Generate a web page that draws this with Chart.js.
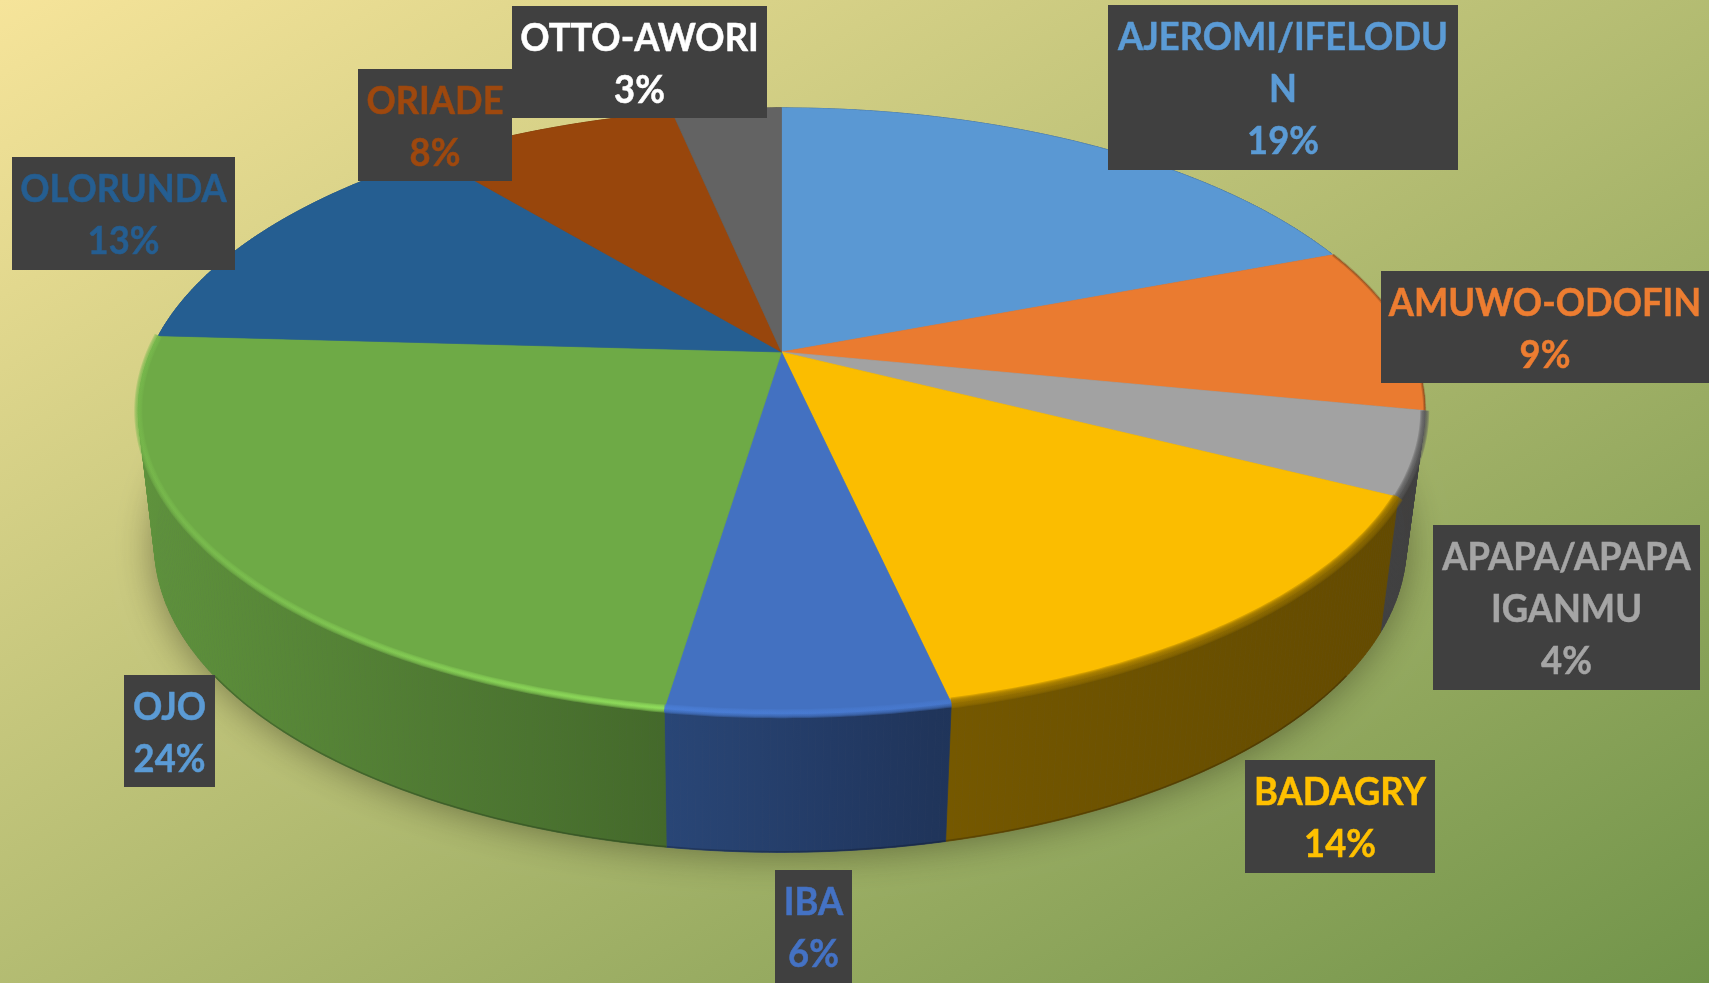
<!DOCTYPE html>
<html><head><meta charset="utf-8">
<style>html,body{margin:0;padding:0;background:#b3bb70}#wrap{width:1709px;height:983px;position:relative;overflow:hidden}</style>
<script src="https://cdn.jsdelivr.net/npm/chart.js@4"></script>
</head><body><div id="wrap"><canvas id="c"></canvas></div>
<script>
const districts = ['AJEROMI/IFELODUN','AMUWO-ODOFIN','APAPA/APAPA IGANMU','BADAGRY','IBA','OJO','OLORUNDA','ORIADE','OTTO-AWORI'];
const shares = [19.2,8.9,4.4,14.0,5.9,23.5,13.1,7.7,3.3];
const sliceColors = ['#5a98d3','#ea7b30','#a2a2a2','#fbbd00','#4371c1','#6eaa46','#255e91','#98460c','#636363'];
const labelColors = ['#5b9bd5','#ed7d31','#a5a5a5','#ffc000','#4472c4','#5b9bd5','#255e91','#9e480e','#ffffff'];
const labelLines = [['AJEROMI/IFELODU','N'],['AMUWO-ODOFIN'],['APAPA/APAPA','IGANMU'],['BADAGRY'],['IBA'],['OJO'],['OLORUNDA'],['ORIADE'],['OTTO-AWORI']];

// layout of the label boxes: x0, y0, x1, y1
const labelBoxes = [[1108,5,1458,170],[1381,271,1709,383],[1433,525,1700,690],[1245,760,1435,873],[775,870,852,983],[124,675,215,787],[12,157,235,270],[358,69,512,181],[512,6,767,118]];
// perspective of the disc: upper face and lower face
const K = 0.194;
const TOP = {cx:781.5, cy:352, a:631, b:291.5};
const BOT = {cx:780.4, cy:485.4, a:614, b:295.8};
// bevel along the front edge: tone at the left and right of each slice, and width
const rimToneL = [0,0.55,0.55,0.6,1.12,1.08,0,0,0];
const rimToneR = [0,0.55,0.55,0.55,1.06,1.35,0,0,0];
const rimWidth = [0,3,9,11,9,8,0,0,0];

function project(f, th){ // th: radians clockwise from 12 o'clock, on rim
  const x=Math.sin(th), y=-Math.cos(th), w=1-K*y;
  return [f.cx+f.a*x/w, f.cy+f.b*y/w];
}
function shade(hex,f){
  const n=parseInt(hex.slice(1),16);
  const c=[n>>16&255,n>>8&255,n&255].map(v=>Math.min(255,Math.round(v*f)));
  return `rgb(${c[0]},${c[1]},${c[2]})`;
}
function wallLight(x){
  const xs=[140,660,950,1430], fs=[.86,.62,.46,.39];
  for(let i=1;i<xs.length;i++) if(x<=xs[i]) return fs[i-1]+(fs[i]-fs[i-1])*(x-xs[i-1])/(xs[i]-xs[i-1]);
  return fs[fs.length-1];
}
function rimPts(f,a0,a1){
  const n=Math.max(2,Math.ceil((a1-a0)/0.01)), p=[];
  for(let i=0;i<=n;i++) p.push(project(f,a0+(a1-a0)*i/n));
  return p;
}
const angles = el => [el.startAngle+Math.PI/2, el.endAngle+Math.PI/2];

// every slice is drawn by the library's own arc element, on the perspective disc
Chart.ArcElement.prototype.draw = function(ctx){
  const [a0,a1]=angles(this);
  ctx.save();
  ctx.beginPath();
  ctx.moveTo(TOP.cx,TOP.cy);
  rimPts(TOP,a0,a1).forEach(p=>ctx.lineTo(p[0],p[1]));
  ctx.closePath();
  ctx.fillStyle=this.options.backgroundColor;
  ctx.fill();
  ctx.strokeStyle=this.options.backgroundColor;
  ctx.lineWidth=0.7;
  ctx.stroke();
  ctx.restore();
};

const scene = {
  id:'scene',
  beforeDraw(chart){
    const ctx=chart.ctx, g=ctx.createLinearGradient(430,-247,1279,1230);
    g.addColorStop(0,'#f6e49a'); g.addColorStop(1,'#71944a');
    ctx.fillStyle=g; ctx.fillRect(0,0,chart.width,chart.height);
  },
  beforeDatasetsDraw(chart){
    const ctx=chart.ctx, els=chart.getDatasetMeta(0).data;
    // soft shadow under the disc
    ctx.save();
    ctx.shadowColor='rgba(40,40,20,0.5)'; ctx.shadowBlur=38; ctx.shadowOffsetY=2;
    ctx.fillStyle='#556';
    ctx.beginPath();
    rimPts(BOT,0,Math.PI*2).forEach((p,i)=>i?ctx.lineTo(p[0],p[1]):ctx.moveTo(p[0],p[1]));
    ctx.closePath(); ctx.fill();
    ctx.restore();
    // side walls, one narrow strip at a time
    els.forEach((el,i)=>{
      const [a0,a1]=angles(el), t=rimPts(TOP,a0,a1), b=rimPts(BOT,a0,a1);
      const g=ctx.createLinearGradient(130,0,1430,0), col=sliceColors[i];
      for(let s=0;s<=13;s++){ const x=130+100*s; g.addColorStop(s/13,shade(col,wallLight(x))); }
      ctx.fillStyle=g; ctx.strokeStyle=g; ctx.lineWidth=0.7;
      for(let j=0;j<t.length-1;j++){
        ctx.beginPath();
        ctx.moveTo(t[j][0],t[j][1]); ctx.lineTo(t[j+1][0],t[j+1][1]);
        ctx.lineTo(b[j+1][0],b[j+1][1]); ctx.lineTo(b[j][0],b[j][1]);
        ctx.closePath(); ctx.fill(); ctx.stroke();
      }
      // thin darker line on the lower edge
      const front=b.filter(p=>p[1]>BOT.cy+190);
      if(front.length>1){
        ctx.save();
        ctx.strokeStyle='rgba(0,0,0,0.2)'; ctx.lineWidth=1.6;
        ctx.beginPath();
        front.forEach((p,j)=>j?ctx.lineTo(p[0],p[1]-0.6):ctx.moveTo(p[0],p[1]-0.6));
        ctx.stroke();
        ctx.restore();
      }
    });
  },
  afterDatasetsDraw(chart){
    const ctx=chart.ctx, els=chart.getDatasetMeta(0).data;
    // bevel along the front edge of the upper face
    els.forEach((el,i)=>{
      if(!rimWidth[i]) return;
      const [a0,a1]=angles(el), pts=rimPts(TOP,a0,a1);
      const xs=pts.map(p=>p[0]), x0=Math.min(...xs), x1=Math.max(...xs);
      const g=ctx.createLinearGradient(x0,0,x1,0);
      g.addColorStop(0,shade(sliceColors[i],rimToneL[i]));
      g.addColorStop(1,shade(sliceColors[i],rimToneR[i]));
      ctx.save();
      ctx.lineCap='butt'; ctx.lineJoin='round';
      ctx.strokeStyle=g; ctx.globalAlpha=0.36;
      for(let w=rimWidth[i];w>0;w-=2){
        ctx.lineWidth=w;
        ctx.beginPath();
        pts.forEach((p,j)=>j?ctx.lineTo(p[0],p[1]):ctx.moveTo(p[0],p[1]));
        ctx.stroke();
      }
      ctx.restore();
    });
    // data labels
    ctx.save();
    ctx.font='bold 38px Lato';
    ctx.textAlign='center'; ctx.textBaseline='alphabetic';
    labelBoxes.forEach((b,i)=>{
      ctx.fillStyle='#404040';
      ctx.fillRect(b[0],b[1],b[2]-b[0],b[3]-b[1]);
      ctx.fillStyle=labelColors[i]; ctx.strokeStyle=labelColors[i]; ctx.lineWidth=0.5;
      const lines=labelLines[i].concat(Math.round(shares[i])+'%'), xc=(b[0]+b[2])/2;
      lines.forEach((t,j)=>{
        const w=ctx.measureText(t).width*0.955, y=b[1]+45+j*52;
        ctx.fillText(t,xc,y,w); ctx.strokeText(t,xc,y,w);
      });
    });
    ctx.restore();
  }
};

new Chart(document.getElementById('c'),{
  type:'pie',
  data:{labels:districts,datasets:[{data:shares,backgroundColor:sliceColors,borderWidth:0}]},
  options:{responsive:true,maintainAspectRatio:false,animation:false,
    plugins:{legend:{display:false},tooltip:{enabled:false}}},
  plugins:[scene]
});
</script></body></html>
